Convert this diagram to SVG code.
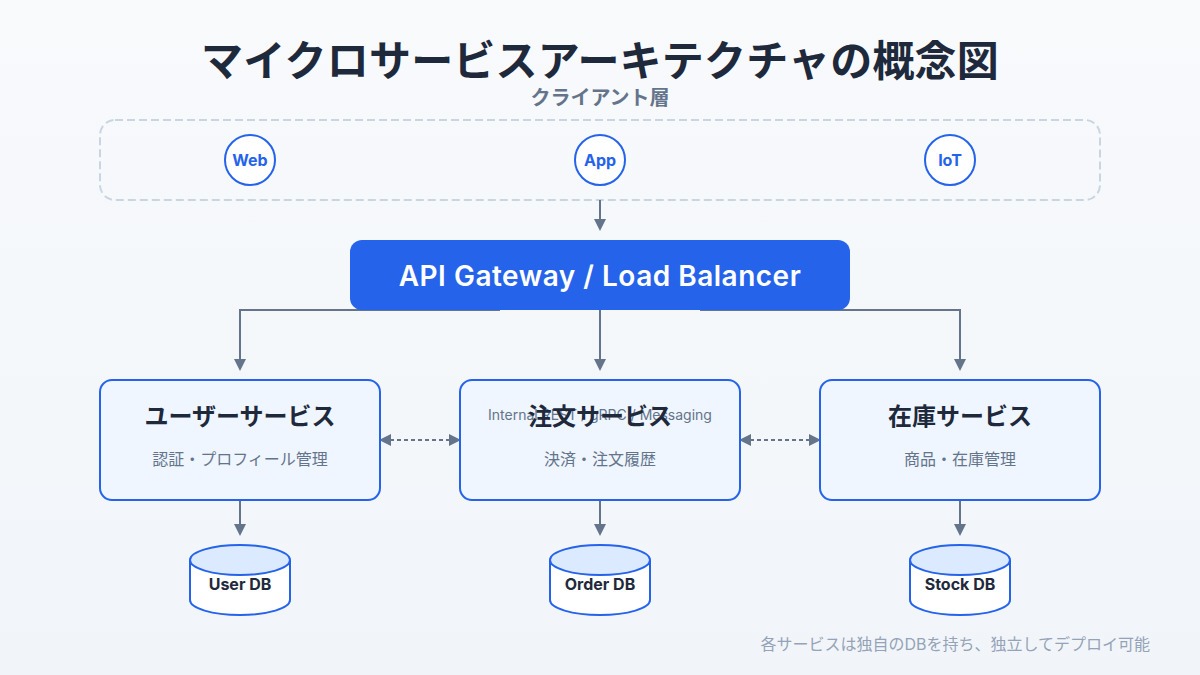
<svg xmlns="http://www.w3.org/2000/svg" width="1200" height="675" viewBox="0 0 1200 675">
<defs>
<linearGradient id="bg" x1="0" y1="0" x2="0" y2="1"><stop offset="0" stop-color="#f8fafc"/><stop offset="1" stop-color="#f1f5f9"/></linearGradient>
<marker id="end" markerWidth="12" markerHeight="12" refX="1" refY="6" orient="auto" markerUnits="userSpaceOnUse"><path d="M0,0L12,6L0,12Z" fill="#64748b"/></marker>
<marker id="start" markerWidth="12" markerHeight="12" refX="11" refY="6" orient="auto" markerUnits="userSpaceOnUse"><path d="M12,0L0,6L12,12Z" fill="#64748b"/></marker>
</defs>
<style>
text{font-family:"Inter","Noto Sans CJK JP",sans-serif;text-anchor:middle}
.conn{fill:none;stroke:#64748b;stroke-width:2}
.arr{marker-end:url(#end)}
.dash{stroke-dasharray:4 3;marker-start:url(#start);marker-end:url(#end)}
.client circle{fill:#fff;stroke:#2563eb;stroke-width:2}
.client text{font-size:16px;font-weight:700;fill:#2563eb}
.svc rect{fill:#eff6ff;stroke:#2563eb;stroke-width:2}
.svc .t{font-size:24px;font-weight:700;fill:#1e293b}
.svc .s{font-size:16px;fill:#64748b}
.db .body{fill:#fff;stroke:#2563eb;stroke-width:2}
.db ellipse{fill:#dbeafe;stroke:#2563eb;stroke-width:2}
.db text{font-size:16px;font-weight:700;fill:#1e293b}
</style>
<rect width="1200" height="675" fill="url(#bg)"/>
<text x="600" y="76" font-size="42" font-weight="700" letter-spacing="0.2" fill="#1e293b">マイクロサービスアーキテクチャの概念図</text>
<g id="client-layer">
<rect x="100" y="120" width="1000" height="80" rx="15" fill="none" stroke="#cbd5e1" stroke-width="2" stroke-dasharray="8 4"/>
<text x="600" y="105" font-size="20" font-weight="700" fill="#64748b">クライアント層</text>
</g>
<g id="client-web" class="client"><circle cx="250" cy="160" r="25"/><text x="250" y="166">Web</text></g>
<g id="client-app" class="client"><circle cx="600" cy="160" r="25"/><text x="600" y="166">App</text></g>
<g id="client-iot" class="client"><circle cx="950" cy="160" r="25"/><text x="950" y="166">IoT</text></g>
<g id="connectors">
<path class="conn arr" d="M600,200V220"/>
<path class="conn arr" d="M500,310H240V360"/>
<path class="conn arr" d="M600,310V360"/>
<path class="conn arr" d="M700,310H960V360"/>
<path class="conn dash" d="M390,440H450"/>
<path class="conn dash" d="M750,440H810"/>
<path class="conn arr" d="M240,500V525"/>
<path class="conn arr" d="M600,500V525"/>
<path class="conn arr" d="M960,500V525"/>
</g>
<g id="gateway">
<rect x="350" y="240" width="500" height="70" rx="12" fill="#2563eb"/>
<text x="600" y="286" font-size="28" font-weight="600" letter-spacing="0.5" fill="#fff">API Gateway / Load Balancer</text>
</g>
<g id="svc-user" class="svc"><rect x="100" y="380" width="280" height="120" rx="12"/><text class="t" x="240" y="425">ユーザーサービス</text><text class="s" x="240" y="465">認証・プロフィール管理</text></g>
<g id="svc-order" class="svc"><rect x="460" y="380" width="280" height="120" rx="12"/><text x="600" y="420" font-size="14" fill="#64748b">Internal REST / gRPC / Messaging</text><text class="t" x="600" y="425">注文サービス</text><text class="s" x="600" y="465">決済・注文履歴</text></g>
<g id="svc-stock" class="svc"><rect x="820" y="380" width="280" height="120" rx="12"/><text class="t" x="960" y="425">在庫サービス</text><text class="s" x="960" y="465">商品・在庫管理</text></g>
<g id="db-user" class="db"><path class="body" d="M190,560V600A50,15 0 0 0 290,600V560"/><ellipse cx="240" cy="560" rx="50" ry="15"/><text x="240" y="590">User DB</text></g>
<g id="db-order" class="db"><path class="body" d="M550,560V600A50,15 0 0 0 650,600V560"/><ellipse cx="600" cy="560" rx="50" ry="15"/><text x="600" y="590">Order DB</text></g>
<g id="db-stock" class="db"><path class="body" d="M910,560V600A50,15 0 0 0 1010,600V560"/><ellipse cx="960" cy="560" rx="50" ry="15"/><text x="960" y="590">Stock DB</text></g>
<text x="1150" y="650" font-size="16" fill="#94a3b8" style="text-anchor:end">各サービスは独自のDBを持ち、独立してデプロイ可能</text>
</svg>
